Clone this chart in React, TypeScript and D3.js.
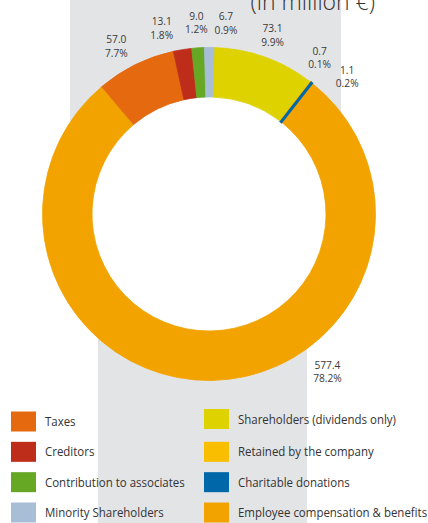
import React from "react";
import * as d3 from "d3";

// slices, clockwise from just right of 12 o'clock
const categories = [
  "Shareholders (dividends only)",
  "Retained by the company",
  "Charitable donations",
  "Employee compensation & benefits",
  "Taxes",
  "Creditors",
  "Contribution to associates",
  "Minority Shareholders",
];
const values = [73.1, 1.1, 0.7, 577.4, 57.0, 13.1, 9.0, 6.7];
const shares = [9.9, 0.2, 0.1, 78.2, 7.7, 1.8, 1.2, 0.9];
const colors = ["#ded300", "#f9be00", "#0067a8", "#f2a300", "#e5690e", "#be2d1a", "#66a824", "#a8bdd6"];

const legendLeft = ["Taxes", "Creditors", "Contribution to associates", "Minority Shareholders"];
const legendRight = [
  "Shareholders (dividends only)",
  "Retained by the company",
  "Charitable donations",
  "Employee compensation & benefits",
];

// label placement tweaks (degrees off the slice middle, extra radius)
const labelNudge: Record<string, [number, number]> = {
  Taxes: [-2.6, 0],
  Creditors: [-5.1, 0],
  "Contribution to associates": [0, 0],
  "Minority Shareholders": [5, 0],
  "Shareholders (dividends only)": [0, -2],
  "Charitable donations": [-2.9, 0],
  "Retained by the company": [7.5, 3],
  "Employee compensation & benefits": [-36, 5],
};

const W = 428;
const H = 523;
const cx = 209;
const cy = 214;
const rOuter = 166.5;
const rInner = 117;
const labelR = 192;
const startDeg = 1.7;

export default function App() {
  const rows = categories.map((c, i) => ({ name: c, value: values[i], share: shares[i] }));
  const color = d3.scaleOrdinal<string, string>().domain(categories).range(colors);

  const start = (startDeg * Math.PI) / 180;
  const pie = d3
    .pie<(typeof rows)[number]>()
    .sort(null)
    .value((d) => d.value)
    .startAngle(start)
    .endAngle(start + 2 * Math.PI);
  const arcs = pie(rows);
  const arc = d3.arc<d3.PieArcDatum<(typeof rows)[number]>>().innerRadius(rInner).outerRadius(rOuter);
  // big slices first so the hairline ones stay visible on top
  const drawOrder = [...arcs].sort((a, b) => b.value - a.value);

  const legendY = d3.scalePoint<number>().domain([0, 1, 2, 3]).range([411.5, 502.5]);
  const font = "'Open Sans', sans-serif";

  return (
    <svg width={W} height={H} style={{ position: "absolute", left: 0, top: 0, background: "#fff" }}>
      <rect x={70} y={0} width={271} height={cy} fill="#e3e4e6" />
      <rect x={98} y={cy} width={209} height={H - cy} fill="#e3e4e6" />
      <text x={375} y={10} textAnchor="end" fontFamily={font} fontWeight={300} fontSize={23} fill="#333">
        (in million €)
      </text>
      <g transform={`translate(${cx},${cy})`}>
        <circle r={rInner} fill="#fff" />
        {drawOrder.map((a) => (
          <path
            key={a.data.name}
            d={arc(a) || ""}
            fill={color(a.data.name)}
            stroke={color(a.data.name)}
            strokeWidth={a.data.value < 1 ? 2.2 : a.data.value < 2 ? 1.6 : 0.8}
          />
        ))}
        {arcs.map((a) => {
          const [dDeg, dR] = labelNudge[a.data.name] || [0, 0];
          const ang = (a.startAngle + a.endAngle) / 2 + (dDeg * Math.PI) / 180;
          const r = labelR + dR;
          const x = r * Math.sin(ang);
          const y = -r * Math.cos(ang);
          return (
            <text key={a.data.name} x={x} y={y} textAnchor="middle" fontFamily={font} fontSize={10.2} fill="#3a3a3a">
              <tspan x={x} y={y - 2.5}>{a.data.value.toFixed(1)}</tspan>
              <tspan x={x} y={y + 11}>{a.data.share.toFixed(1)}%</tspan>
            </text>
          );
        })}
      </g>
      {[
        { items: legendLeft, x: 11 },
        { items: legendRight, x: 204 },
      ].map((col) =>
        col.items.map((name, i) => (
          <g key={name} transform={`translate(${col.x},${legendY(i) - (col.x > 100 && i === 0 ? 2.5 : 0)})`}>
            <rect width={25} height={20} fill={color(name)} />
            <text
              transform="translate(34,14.5) scale(0.85,1)"
              fontFamily={font}
              fontSize={13.5}
              fill="#333"
            >
              {name}
            </text>
          </g>
        ))
      )}
    </svg>
  );
}
